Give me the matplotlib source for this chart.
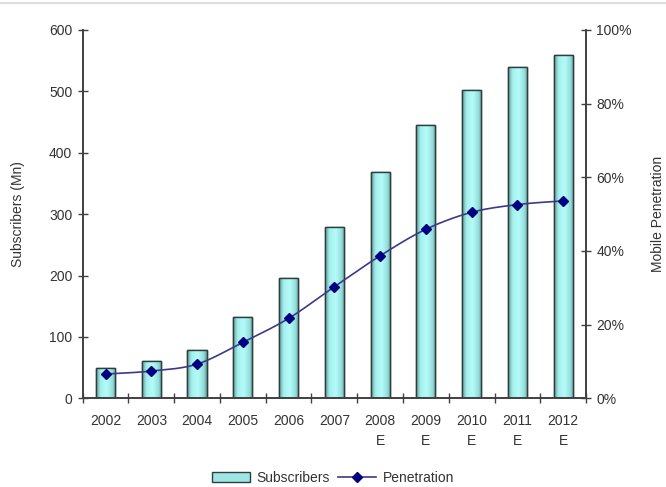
import numpy as np
import matplotlib
matplotlib.use("Agg")
import matplotlib.pyplot as plt
from matplotlib.colors import LinearSegmentedColormap
from matplotlib.patches import Patch
from matplotlib.lines import Line2D

years = ["2002", "2003", "2004", "2005", "2006", "2007", "2008\nE", "2009\nE", "2010\nE", "2011\nE", "2012\nE"]
subscribers = [49, 61, 79, 133, 196, 279, 368, 446, 502, 539, 560]
penetration = [6.6, 7.4, 9.3, 15.2, 21.7, 30.3, 38.7, 45.9, 50.5, 52.6, 53.6]

plt.rcParams['font.family'] = ['Liberation Sans', 'DejaVu Sans']
text_color = '#333333'
spine_color = '#404040'

fig = plt.figure(figsize=(6.66, 4.87), dpi=100)
ax = fig.add_axes([0.1242, 0.1821, 0.7557, 0.7563])
ax2 = ax.twinx()

x = np.arange(len(years))
bars = ax.bar(x, subscribers, width=0.42, facecolor='#aaf3f0', edgecolor='#2e3e3e', linewidth=1.0, zorder=2)

cmap = LinearSegmentedColormap.from_list('cyan', [(0, '#5d9896'), (0.22, '#a4f0ed'), (0.55, '#b4fcf9'), (0.85, '#93dcd9'), (1, '#5f9896')])
grad = np.linspace(0, 1, 64).reshape(1, -1)
for b in bars:
    x0, y0 = b.get_x(), b.get_y()
    w, h = b.get_width(), b.get_height()
    im = ax.imshow(grad, cmap=cmap, aspect='auto', extent=(x0, x0 + w, y0, y0 + h), zorder=2.5, interpolation='bicubic')
    im.set_clip_path(b)
    ax.add_patch(plt.Rectangle((x0, y0), w, h, fill=False, edgecolor='#2e3e3e', linewidth=1.0, zorder=3))

ax.set_xlim(-0.5, len(years) - 0.5)
ax.set_ylim(0, 600)
ax.set_yticks(np.arange(0, 601, 100))
ax2.set_ylim(0, 100)
ax2.set_yticks(np.arange(0, 101, 20))
ax2.set_yticklabels([f"{v}%" for v in range(0, 101, 20)])

ax.set_xticks(x)
ax.set_xticklabels(years, linespacing=1.6)
ax.set_xticks(np.arange(-0.5, len(years), 1), minor=True)
ax.tick_params(axis='x', which='major', length=0, pad=11, labelsize=10, labelcolor=text_color)
ax.tick_params(axis='x', which='minor', direction='inout', length=7, width=1.0, color=spine_color)
ax.tick_params(axis='y', direction='inout', length=7, width=1.0, color=spine_color, labelsize=10, labelcolor=text_color, pad=4)
ax2.tick_params(axis='y', direction='inout', length=7, width=1.0, color=spine_color, labelsize=10, labelcolor=text_color, pad=4)

for a in (ax, ax2):
    a.spines['top'].set_visible(False)
    for s in ('left', 'right', 'bottom'):
        a.spines[s].set_color(spine_color)
        a.spines[s].set_linewidth(1.2)

ax.set_ylabel("Subscribers (Mn)", fontsize=10, color=text_color, labelpad=17)
ax2.set_ylabel("Mobile Penetration", fontsize=10, color=text_color, labelpad=14)

# smoothed line (Catmull-Rom style Bezier through the data points)
px = x.astype(float)
py = np.array(penetration, dtype=float)
n = len(px)
xs, ys = [], []
t = np.linspace(0, 1, 24)
for i in range(n - 1):
    i0, i3 = max(i - 1, 0), min(i + 2, n - 1)
    seg = []
    for arr in (px, py):
        a0, a1, a2, a3 = arr[i0], arr[i], arr[i + 1], arr[i3]
        c1 = a1 + (a2 - a0) / 6
        c2 = a2 - (a3 - a1) / 6
        seg.append((1 - t) ** 3 * a1 + 3 * (1 - t) ** 2 * t * c1 + 3 * (1 - t) * t ** 2 * c2 + t ** 3 * a2)
    bx, by = seg
    if i > 0:
        bx, by = bx[1:], by[1:]
    xs.extend(bx)
    ys.extend(by)
ax2.plot(xs, ys, color='#3a3a8c', linewidth=1.2, zorder=4)
ax2.plot(px, py, linestyle='none', marker='D', markersize=5.5, color='#000080', zorder=5)

handles = [Patch(facecolor='#9ee6e3', edgecolor='#2e3e3e', linewidth=1.0),
           Line2D([0], [0], color='#3a3a8c', linewidth=1.2, marker='D', markersize=5.5, markerfacecolor='#000080', markeredgecolor='#000080')]
fig.legend(handles, ["Subscribers", "Penetration"], loc='center', bbox_to_anchor=(0.5, 0.019), frameon=False,
           ncol=2, fontsize=10, handlelength=2.7, handleheight=0.8, columnspacing=0.6, handletextpad=0.5,
           labelcolor=text_color)

fig.add_artist(Line2D([0, 1], [0.993, 0.993], color='#dddddd', linewidth=1.5, transform=fig.transFigure))

fig.savefig("out.png", dpi=100)
